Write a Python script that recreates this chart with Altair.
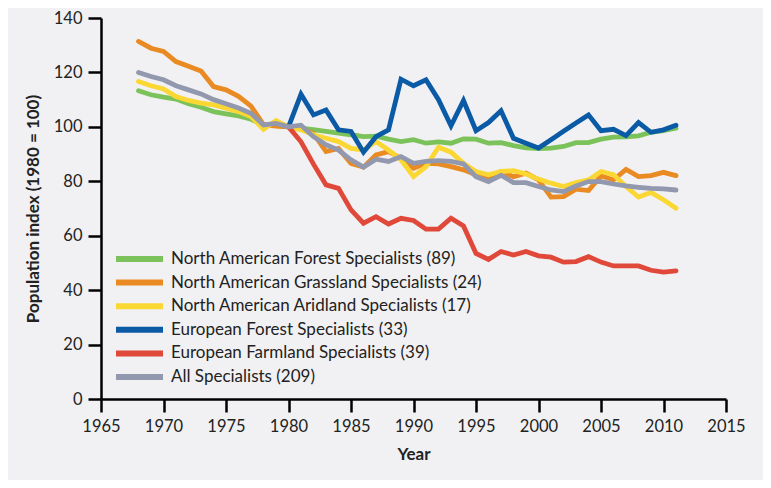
import altair as alt
import pandas as pd

years = list(range(1968, 2012))

na_forest = [113.3, 111.8, 110.9, 110.2, 108.5, 107.2, 105.6, 104.8, 104.0, 102.8, 100.7, 100.5,
             100.0, 99.5, 99.0, 98.3, 97.7, 97.1, 96.4, 96.6, 95.5, 94.6, 95.3, 94.0,
             94.5, 94.0, 95.6, 95.5, 94.0, 94.2, 93.1, 92.3, 92.0, 92.2, 92.8, 94.2,
             94.2, 95.5, 96.2, 96.3, 96.7, 98.0, 98.6, 99.5]
na_grassland = [131.4, 128.9, 127.7, 124.0, 122.3, 120.5, 114.8, 113.6, 111.2, 107.6, 100.8, 100.3,
                100.0, 99.5, 97.5, 90.9, 92.1, 86.6, 85.2, 89.7, 90.9, 88.5, 84.8, 86.6,
                86.4, 85.4, 84.2, 82.4, 81.0, 83.6, 81.7, 83.0, 80.5, 74.2, 74.4, 77.1,
                76.6, 82.0, 80.5, 84.4, 81.7, 82.1, 83.3, 82.1]
na_aridland = [116.7, 115.1, 113.9, 111.1, 109.7, 108.7, 108.1, 106.9, 105.6, 103.8, 99.1, 102.3,
               100.0, 98.9, 97.1, 95.8, 94.6, 92.1, 91.5, 94.6, 91.5, 87.9, 81.7, 85.4,
               92.5, 90.7, 86.6, 83.6, 82.4, 83.6, 83.9, 82.7, 80.8, 79.3, 78.1, 79.5,
               80.5, 83.6, 82.4, 78.1, 74.2, 75.9, 73.2, 70.1]
eu_forest = [None] * 12 + [100.0, 112.0, 104.4, 106.2, 98.9, 98.3, 90.7, 96.4, 98.9, 117.5, 115.1, 117.3,
                          110.0, 100.4, 109.7, 98.6, 101.6, 105.9, 95.8, 94.0, 92.2, 95.3, 98.4, 101.4,
                          104.4, 98.6, 99.1, 96.8, 101.6, 98.0, 98.9, 100.6]
eu_farmland = [None] * 12 + [100.0, 94.5, 86.3, 78.7, 77.4, 69.5, 64.6, 67.0, 64.3, 66.4, 65.6, 62.4,
                            62.4, 66.4, 63.6, 53.5, 51.3, 54.2, 52.9, 54.2, 52.6, 52.1, 50.3, 50.5,
                            52.3, 50.3, 48.9, 48.9, 48.9, 47.3, 46.6, 47.1]
all_specialists = [120.0, 118.5, 117.3, 115.1, 113.6, 112.1, 110.0, 108.5, 106.9, 105.0, 100.7, 101.3,
                   100.0, 100.6, 96.4, 93.4, 91.5, 87.9, 85.2, 88.1, 87.3, 89.1, 86.6, 87.3,
                   87.6, 87.3, 86.4, 81.7, 79.9, 82.2, 79.5, 79.5, 78.1, 76.8, 76.2, 78.3,
                   79.9, 79.9, 79.0, 78.3, 77.8, 77.4, 77.2, 76.8]

series_names = [
    "North American Forest Specialists (89)",
    "North American Grassland Specialists (24)",
    "North American Aridland Specialists (17)",
    "European Forest Specialists (33)",
    "European Farmland Specialists (39)",
    "All Specialists (209)",
]
series_values = [na_forest, na_grassland, na_aridland, eu_forest, eu_farmland, all_specialists]
series_colors = ["#7cc25a", "#e98b22", "#fbd734", "#0b5aa6", "#e0493a", "#9299ae"]

x_ticks = list(range(1965, 2016, 5))
y_ticks = list(range(0, 141, 20))

rows = []
for order, (name, vals) in enumerate(zip(series_names, series_values)):
    for yr, v in zip(years, vals):
        if v is not None:
            rows.append({"Year": yr, "Index": v, "Series": name, "order": order})
df = pd.DataFrame(rows)

FONT = "Lato"

chart = alt.Chart(df).mark_line(strokeWidth=4.8, strokeJoin="miter", strokeCap="round").encode(
    x=alt.X("Year:Q",
            scale=alt.Scale(domain=[1965, 2015], nice=False, zero=False),
            axis=alt.Axis(values=x_ticks, format="d", title="Year", grid=False, labelFlush=False)),
    y=alt.Y("Index:Q",
            scale=alt.Scale(domain=[0, 140], nice=False),
            axis=alt.Axis(values=y_ticks, title="Population index (1980 = 100)", grid=False,
                          labelFlush=False)),
    color=alt.Color("Series:N",
                    scale=alt.Scale(domain=series_names, range=series_colors),
                    sort=series_names,
                    legend=alt.Legend(title=None, orient="none", legendX=12, legendY=233,
                                      symbolType="stroke", symbolSize=2209, symbolStrokeWidth=6,
                                      clipHeight=16, rowPadding=6.6, labelOffset=5,
                                      labelFontSize=17, labelFont=FONT, labelColor="#222222",
                                      labelLimit=400)),
    order=alt.Order("order:Q"),
    detail="Series:N",
).properties(
    width=625, height=381,
    autosize=alt.AutoSizeParams(type="none"),
    padding={"left": 93, "top": 10, "right": 37, "bottom": 81},
    background="#f1f1f3",
).configure_view(
    stroke=None, fill="#f1f1f3"
).configure_axis(
    domainColor="#000000", domainWidth=2.5, tickColor="#000000", tickWidth=2.5, tickSize=13,
    labelFont=FONT, labelFontSize=16.5, labelColor="#222222", labelPadding=6,
    titleFont=FONT, titleFontSize=17, titleFontWeight="bold", titleColor="#222222",
).configure_axisY(
    titlePadding=11
).configure_axisX(
    titlePadding=12
)

chart.save("out.html", embed_options={"renderer": "svg", "actions": False})
